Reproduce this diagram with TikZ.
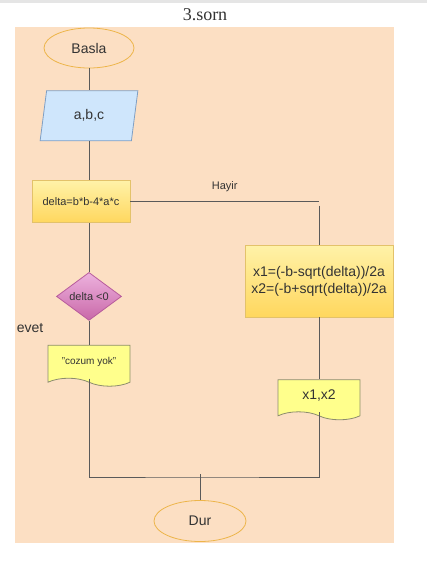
\documentclass[tikz,border=0pt]{standalone}
\usepackage{fontspec}
\setmainfont{Liberation Sans}
\newfontfamily\titlefont{Liberation Serif}
\usetikzlibrary{positioning}
\usetikzlibrary{calc}
\usetikzlibrary{shapes.geometric}
\usetikzlibrary{shapes.symbols}

\definecolor{PageBg}{HTML}{FCDFC3}
\definecolor{TermLine}{HTML}{EDB54A}
\definecolor{InFill}{HTML}{CFE6FC}
\definecolor{InLine}{HTML}{7F9FC4}
\definecolor{BoxTop}{HTML}{FFF2A8}
\definecolor{BoxBot}{HTML}{FFD75E}
\definecolor{BoxLine}{HTML}{E3C26A}
\definecolor{DocFill}{HTML}{FFFF8C}
\definecolor{DocLine}{HTML}{8C8C6E}
\definecolor{DecTop}{HTML}{EDB2DE}
\definecolor{DecBot}{HTML}{C968A8}
\definecolor{DecLine}{HTML}{B85C9C}
\definecolor{FlowLine}{HTML}{5A5A5A}
\definecolor{TextGray}{HTML}{333333}

\begin{document}
\begin{tikzpicture}[
	x=1pt, y=-1pt,
	font=\fontsize{14}{17}\selectfont,
	text=TextGray,
	flow/.style={draw=FlowLine, line width=0.8pt},
	docbox/.style={
		tape,
		tape bend top=none,
		tape bend bottom=out and in,
		tape bend height=8pt,
		draw=DocLine,
		fill=DocFill,
		line width=0.8pt,
		minimum width=82pt,
		inner sep=0pt
	}
]

\useasboundingbox (0,0) rectangle (427,568);
\fill[gray!20] (0,0) rectangle (427,3);
\fill[PageBg] (15,27) rectangle (394,543);

\node[font=\titlefont\fontsize{18}{20}\selectfont] (title) at (205,15) {3.sorn};

\node[
	ellipse,
	draw=TermLine,
	fill=PageBg,
	line width=0.8pt,
	minimum width=90pt,
	minimum height=40pt
] (basla) at (89,48) {Basla};

\node[
	trapezium,
	trapezium left angle=79,
	trapezium right angle=101,
	trapezium stretches=true,
	draw=InLine,
	fill=InFill,
	line width=0.8pt,
	minimum width=98pt,
	minimum height=50pt,
	inner sep=0pt,
	below=22pt of basla
] (input) {a,b,c};

\node[
	draw=BoxLine,
	top color=BoxTop,
	bottom color=BoxBot,
	line width=0.8pt,
	minimum width=98pt,
	minimum height=42pt,
	font=\fontsize{11}{13}\selectfont,
	below=39pt of input,
	xshift=-8pt
] (delta) {delta=b*b-4*a*c};

\node[
	diamond,
	aspect=1.35,
	draw=DecLine,
	top color=DecTop,
	bottom color=DecBot,
	line width=0.8pt,
	minimum width=65pt,
	minimum height=48pt,
	inner sep=0pt,
	font=\fontsize{11}{13}\selectfont,
	below=49pt of input.south |- delta.south
] (dec) {delta <0};

\node[
	docbox,
	minimum height=41pt,
	font=\fontsize{10}{12}\selectfont,
	below=24pt of dec
] (cozum) {"cozum yok"};

\node[
	draw=BoxLine,
	top color=BoxTop,
	bottom color=BoxBot,
	line width=0.8pt,
	minimum width=148pt,
	minimum height=72pt,
	align=center
] (calc) at (319,281) {x1=(-b-sqrt(delta))/2a\\x2=(-b+sqrt(delta))/2a};

\node[
	docbox,
	minimum height=40pt,
	below=62pt of calc
] (xdoc) {x1,x2};

\node[
	ellipse,
	draw=TermLine,
	fill=PageBg,
	line width=0.8pt,
	minimum width=92pt,
	minimum height=41pt
] (dur) at (200,521) {Dur};

\node (evet) at (30,328) {evet};

\coordinate (merge) at (200,477);

% ---

\draw[flow] (basla.south) -- (input.north);

\draw[flow] (input.south) -- (input.south |- delta.north);

\draw[flow] (delta.east) -- (delta.east -| calc.north)
	node[midway, above=6pt, font=\fontsize{11}{13}\selectfont]{Hayir};

\draw[flow] ([yshift=-4pt]delta.east -| calc.north) -- (calc.north);

\draw[flow] (dec.north |- delta.south) -- (dec.north);

\draw[flow] (dec.south) -- (cozum.north);

\draw[flow] (calc.south) -- (xdoc.north);

\draw[flow] (cozum.south) |- (merge) -| (xdoc.south);

\draw[flow] ([yshift=3pt]merge) -- (dur.north);

\end{tikzpicture}
\end{document}
